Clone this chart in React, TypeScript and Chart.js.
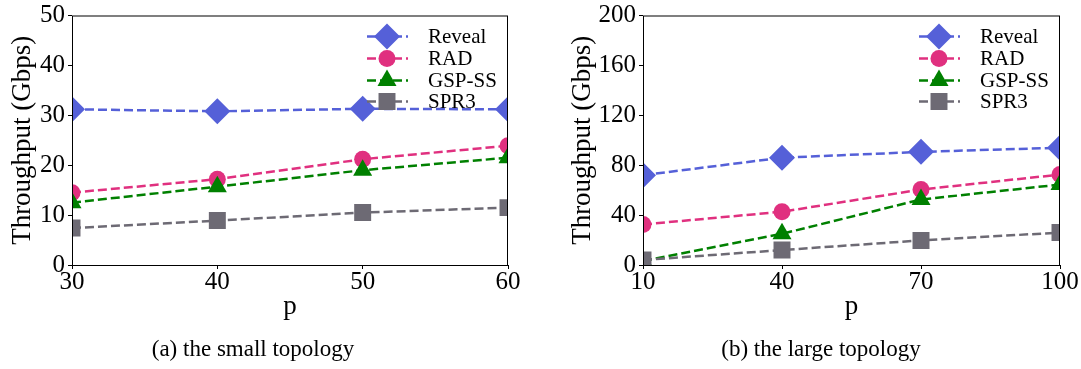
import React, { useEffect, useRef } from 'react';
import { Chart, registerables } from 'chart.js';
import { drawPoint } from 'chart.js/helpers';

Chart.register(...registerables);

// ---------- data ----------
const seriesNames = ['Reveal', 'RAD', 'GSP-SS', 'SPR3'];
const seriesColors = ['#5560d8', '#e0307f', '#008000', '#6d6a74'];
const seriesMarkers = ['rectRot', 'circle', 'triangle', 'rect'];
const markerRadii = [13, 8.5, 11, 12];

const smallP = [30, 40, 50, 60];
const smallReveal = [31.2, 30.8, 31.3, 31.2];
const smallRAD = [14.5, 17.2, 21.2, 23.9];
const smallGSP = [12.5, 15.7, 19.0, 21.5];
const smallSPR3 = [7.4, 8.9, 10.5, 11.5];
const smallXTicks = [30, 40, 50, 60];
const smallYTicks = [0, 10, 20, 30, 40, 50];

const largeP = [10, 40, 70, 100];
const largeReveal = [72, 86, 90.7, 94];
const largeRAD = [32.5, 42.7, 60.5, 72.5];
const largeGSP = [3.2, 25, 52.5, 64.5];
const largeSPR3 = [4, 12, 19.7, 26];
const largeXTicks = [10, 40, 70, 100];
const largeYTicks = [0, 40, 80, 120, 160, 200];

const xTitle = 'p';
const yTitle = 'Throughput (Gbps)';
const captions = ['(a) the small topology', '(b) the large topology'];

const FONT = "'Liberation Serif', 'DejaVu Serif', serif";

const legendRows = [21, 43, 65, 86];

const framePlugin = {
  id: 'frameAndLegend',
  afterDraw(chart: any) {
    const { ctx, chartArea: a } = chart;
    ctx.save();
    // frame
    ctx.strokeStyle = '#000';
    ctx.lineWidth = 1;
    ctx.setLineDash([]);
    ctx.strokeRect(a.left + 0.5, a.top + 0.5, a.right - a.left - 1, a.bottom - a.top);
    // legend
    const R = a.right;
    chart.data.datasets.forEach((ds: any, i: number) => {
      const y = a.top + legendRows[i];
      ctx.save();
      ctx.strokeStyle = ds.borderColor;
      ctx.lineWidth = 2.5;
      ctx.setLineDash([9, 4]);
      ctx.beginPath();
      ctx.moveTo(R - 141, y);
      ctx.lineTo(R - 100, y);
      ctx.stroke();
      ctx.setLineDash([]);
      ctx.fillStyle = ds.backgroundColor;
      ctx.strokeStyle = ds.backgroundColor;
      drawPoint(ctx, { pointStyle: ds.pointStyle, radius: ds.pointRadius, rotation: 0, borderWidth: 0 } as any, R - 121, y);
      ctx.restore();
      ctx.fillStyle = '#000';
      ctx.font = `21px ${FONT}`;
      ctx.textAlign = 'left';
      ctx.textBaseline = 'middle';
      ctx.fillText(ds.label, R - 80, y + 1);
    });
    ctx.restore();
  },
};

function buildConfig(p: {
  xs: number[];
  series: number[][];
  xTicks: number[];
  yTicks: number[];
  yAxisWidth: number;
  rightPad: number;
  yTitlePad: number;
}) {
  const datasets = seriesNames.map((name, i) => ({
    label: name,
    data: p.xs.map((x, j) => ({ x, y: p.series[i][j] })),
    borderColor: seriesColors[i],
    backgroundColor: seriesColors[i],
    borderWidth: 2.5,
    borderDash: [9, 4],
    pointStyle: seriesMarkers[i],
    pointRadius: markerRadii[i],
    pointHoverRadius: markerRadii[i],
    pointBorderWidth: 0,
    pointBackgroundColor: seriesColors[i],
    pointBorderColor: seriesColors[i],
    fill: false,
    tension: 0,
    clip: 0,
    order: 3 - i,
  }));
  const tickFont = { family: FONT, size: 25, lineHeight: 1 };
  const titleFont = { family: FONT, size: 27, lineHeight: 1.2 };
  const grid = { drawOnChartArea: false, drawTicks: true, tickLength: 4, color: '#000', lineWidth: 1 };
  return {
    type: 'line' as const,
    data: { datasets },
    options: {
      animation: false as const,
      responsive: false,
      events: [],
      layout: { padding: { left: 0, top: 15, right: p.rightPad, bottom: 0 } },
      plugins: { legend: { display: false }, tooltip: { enabled: false }, title: { display: false } },
      scales: {
        x: {
          type: 'linear' as const,
          min: p.xTicks[0],
          max: p.xTicks[p.xTicks.length - 1],
          afterBuildTicks: (s: any) => {
            s.ticks = p.xTicks.map((v) => ({ value: v }));
          },
          afterFit: (s: any) => {
            s.height = 104;
          },
          grid,
          border: { display: false },
          ticks: { font: tickFont, color: '#000', padding: 1, maxRotation: 0, autoSkip: false, callback: (v: any) => String(v) },
          title: { display: true, text: xTitle, font: titleFont, color: '#000', padding: { top: 0, bottom: 46 } },
        },
        y: {
          type: 'linear' as const,
          min: p.yTicks[0],
          max: p.yTicks[p.yTicks.length - 1],
          afterBuildTicks: (s: any) => {
            s.ticks = p.yTicks.map((v) => ({ value: v }));
          },
          afterFit: (s: any) => {
            s.width = p.yAxisWidth;
          },
          grid,
          border: { display: false },
          ticks: { font: tickFont, color: '#000', padding: 3, autoSkip: false, callback: (v: any) => String(v) },
          title: { display: true, text: yTitle, font: titleFont, color: '#000', padding: { top: p.yTitlePad, bottom: 0 } },
        },
      },
    },
    plugins: [framePlugin],
  };
}

function ChartPanel(props: { cfg: any; width: number; left: number; caption: string; captionCenter: number }) {
  const ref = useRef<HTMLCanvasElement>(null);
  useEffect(() => {
    if (!ref.current) return;
    const chart = new Chart(ref.current, props.cfg);
    return () => chart.destroy();
  }, []);
  return (
    <>
      <canvas
        ref={ref}
        width={props.width}
        height={369}
        style={{ position: 'absolute', left: props.left, top: 0, width: props.width, height: 369 }}
      />
      <div
        style={{
          position: 'absolute',
          left: props.captionCenter - 200,
          width: 400,
          top: 337,
          textAlign: 'center',
          fontFamily: FONT,
          fontSize: 23,
          lineHeight: '23px',
          color: '#000',
          whiteSpace: 'nowrap',
        }}
      >
        {props.caption}
      </div>
    </>
  );
}

export default function App() {
  const cfgSmall = buildConfig({
    xs: smallP,
    series: [smallReveal, smallRAD, smallGSP, smallSPR3],
    xTicks: smallXTicks,
    yTicks: smallYTicks,
    yAxisWidth: 72,
    rightPad: 32,
    yTitlePad: 7,
  });
  const cfgLarge = buildConfig({
    xs: largeP,
    series: [largeReveal, largeRAD, largeGSP, largeSPR3],
    xTicks: largeXTicks,
    yTicks: largeYTicks,
    yAxisWidth: 103,
    rightPad: 21,
    yTitlePad: 27,
  });
  return (
    <div style={{ position: 'absolute', left: 0, top: 0, width: 1081, height: 369, background: '#fff', overflow: 'hidden' }}>
      <ChartPanel cfg={cfgSmall} width={540} left={0} caption={captions[0]} captionCenter={253} />
      <ChartPanel cfg={cfgLarge} width={541} left={540} caption={captions[1]} captionCenter={821} />
    </div>
  );
}
